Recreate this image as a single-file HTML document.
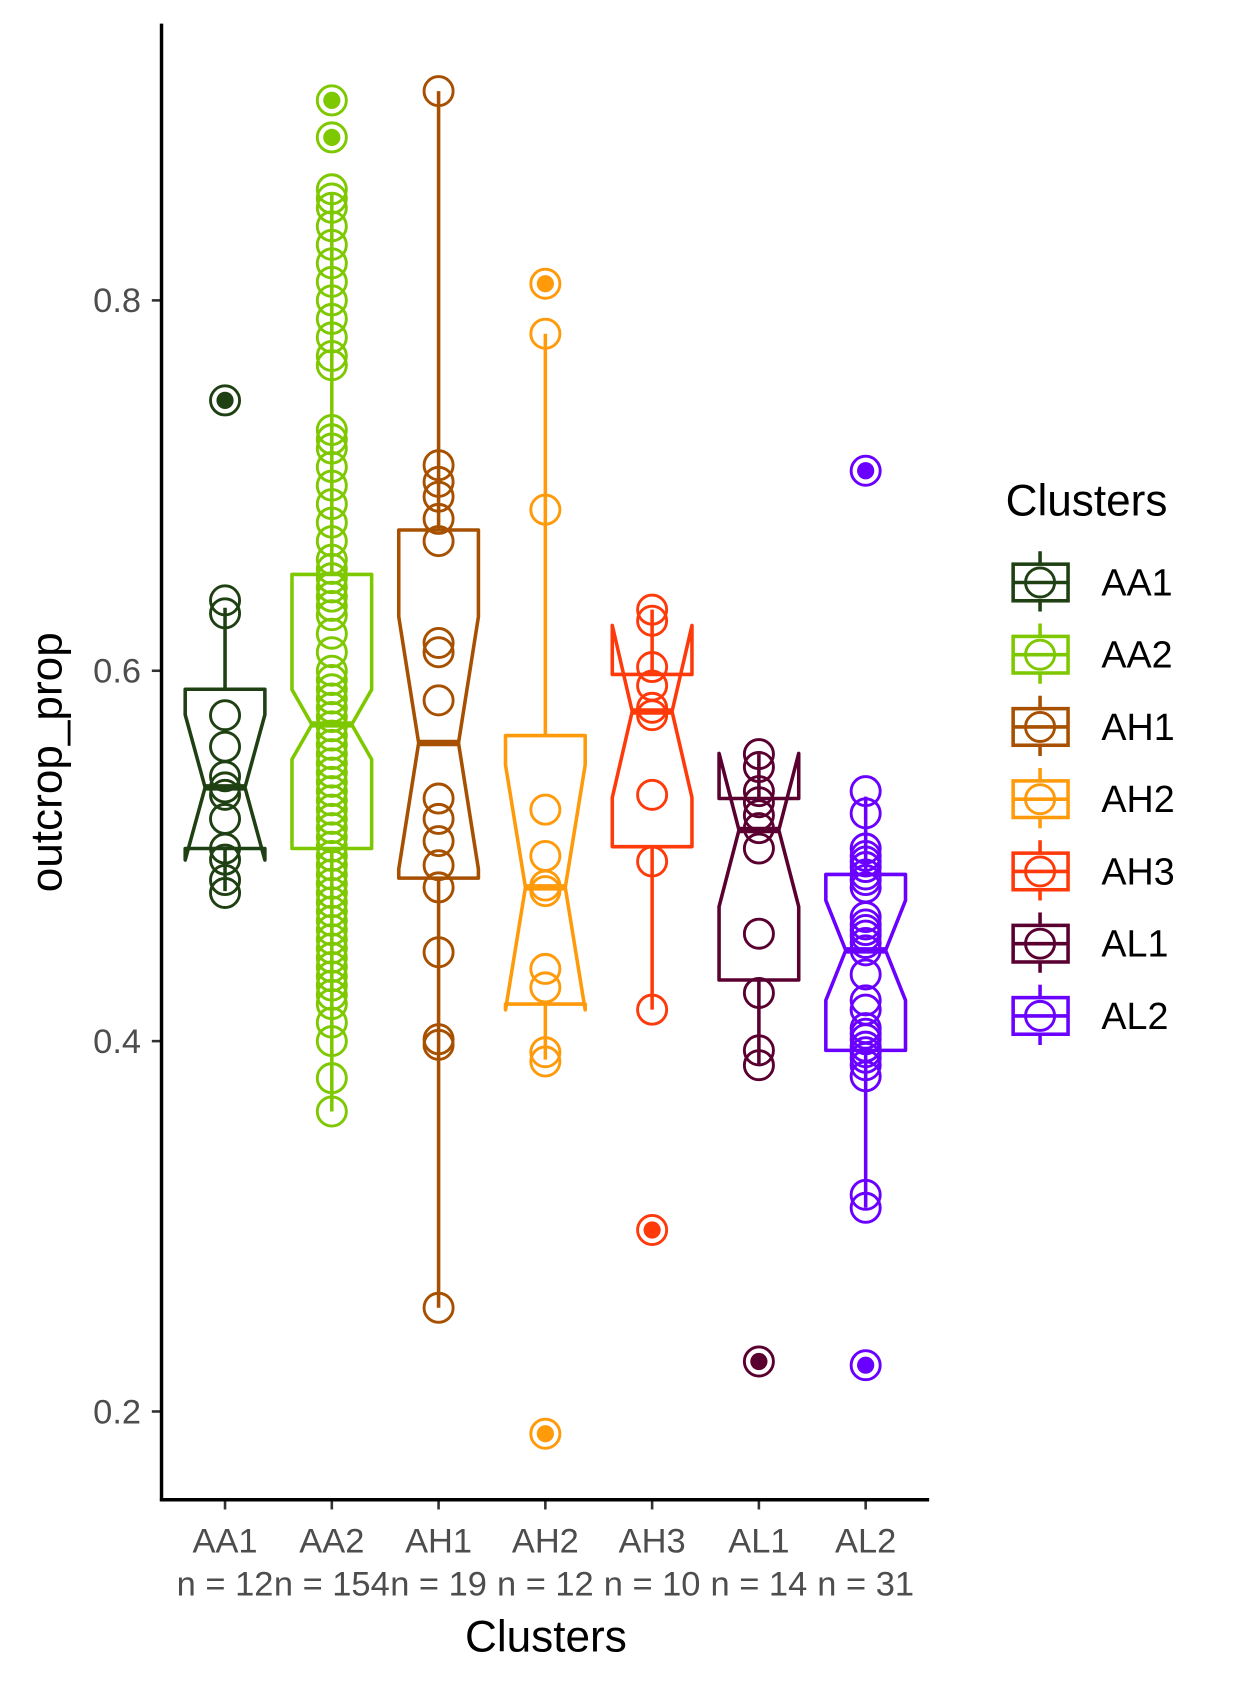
<!DOCTYPE html>
<html><head><meta charset="utf-8"><style>
html,body{margin:0;padding:0;background:#fff;}
svg{display:block;font-family:"Liberation Sans",Arial,sans-serif;}
</style></head><body>
<svg id="chart" width="1237" height="1687" viewBox="0 0 1148.9 1566.9" xmlns="http://www.w3.org/2000/svg">
<g id="plot"></g>
<g id="legend"></g>
</svg>
<script>
const categories = ["AA1","AA2","AH1","AH2","AH3","AL1","AL2"];
const counts = [12,154,19,12,10,14,31];
const colors = ["#1f4012","#7ec800","#a65000","#ff9a0a","#ff3a0a","#5a0030","#6a00ff"];
const q1s = [0.504,0.504,0.488,0.420,0.505,0.433,0.395];
const medians = [0.537,0.571,0.561,0.483,0.578,0.514,0.449];
const q3s = [0.590,0.652,0.676,0.565,0.598,0.531,0.490];
const whiskerLow = [0.481,0.362,0.256,0.390,0.417,0.387,0.310];
const whiskerHigh = [0.634,0.858,0.913,0.782,0.633,0.555,0.532];
const outliers = [[0.746],[0.908,0.888],[],[0.809,0.188],[0.298],[0.227],[0.708,0.225]];
const points = [
 [0.746,0.638,0.631,0.576,0.559,0.543,0.537,0.533,0.520,0.504,0.498,0.487,0.480],
 [0.908,0.888,0.86,0.855,0.85,0.84,0.83,0.82,0.81,0.80,0.79,0.78,0.77,0.765,0.73,0.725,0.72,0.71,0.70,0.69,0.68,0.67,0.66,0.655,0.65,0.645,0.64,0.635,0.63,0.62,0.61,0.60,0.595,0.59,0.585,0.58,0.575,0.57,0.565,0.56,0.555,0.55,0.545,0.54,0.535,0.53,0.525,0.52,0.515,0.51,0.505,0.50,0.495,0.49,0.485,0.48,0.475,0.47,0.465,0.46,0.455,0.45,0.445,0.44,0.435,0.43,0.425,0.42,0.41,0.40,0.38,0.362],
 [0.913,0.711,0.702,0.694,0.682,0.670,0.615,0.610,0.584,0.531,0.520,0.508,0.495,0.483,0.448,0.401,0.398,0.256],
 [0.809,0.782,0.687,0.525,0.500,0.484,0.481,0.439,0.429,0.394,0.389,0.188],
 [0.633,0.627,0.602,0.592,0.580,0.576,0.533,0.497,0.417,0.298],
 [0.555,0.548,0.535,0.529,0.522,0.515,0.504,0.458,0.426,0.395,0.387,0.227],
 [0.708,0.535,0.523,0.504,0.500,0.497,0.494,0.490,0.487,0.483,0.467,0.463,0.460,0.457,0.453,0.449,0.436,0.422,0.417,0.407,0.404,0.401,0.397,0.394,0.391,0.387,0.381,0.317,0.310,0.225]
];
const yTicks = [0.2,0.4,0.6,0.8];
const yTickLabels = ["0.2","0.4","0.6","0.8"];

const NS="http://www.w3.org/2000/svg";
const plot=document.getElementById('plot');
const legend=document.getElementById('legend');
function y(v){return 279+(0.8-v)*1720;}
function x(i){return 209+i*99.17;}
function mk(tag,attrs,parent){const e=document.createElementNS(NS,tag);for(const k in attrs)e.setAttribute(k,attrs[k]);parent.appendChild(e);return e;}
const SW=3.3;

categories.forEach((c,i)=>{
  const g=mk('g',{},plot);
  
  
  const col=colors[i], cx=x(i), hw=37;
  const iqr=q3s[i]-q1s[i], nd=1.58*iqr/Math.sqrt(counts[i]);
  const nlo=medians[i]-nd, nhi=medians[i]+nd;
  mk('line',{x1:cx,x2:cx,y1:y(whiskerHigh[i]),y2:y(q3s[i]),stroke:col,'stroke-width':SW},g);
  mk('line',{x1:cx,x2:cx,y1:y(q1s[i]),y2:y(whiskerLow[i]),stroke:col,'stroke-width':SW},g);
  const pts=[[cx-hw,y(q3s[i])],[cx-hw,y(nhi)],[cx-hw/2,y(medians[i])],[cx-hw,y(nlo)],[cx-hw,y(q1s[i])],
   [cx+hw,y(q1s[i])],[cx+hw,y(nlo)],[cx+hw/2,y(medians[i])],[cx+hw,y(nhi)],[cx+hw,y(q3s[i])]];
  mk('polygon',{points:pts.map(p=>p.join(',')).join(' '),fill:'none',stroke:col,'stroke-width':SW,'stroke-linejoin':'round'},g);
  mk('line',{x1:cx-hw/2,x2:cx+hw/2,y1:y(medians[i]),y2:y(medians[i]),stroke:col,'stroke-width':6},g);
  outliers[i].forEach(v=>{
    const o=mk('circle',{cx:cx,cy:y(v),r:8,fill:col},g);
    
    
  });
  points[i].forEach(v=>{
    const p=mk('circle',{cx:cx,cy:y(v),r:13.5,fill:'none',stroke:col,'stroke-width':2.7},g);
    
    
  });
  const tk=mk('line',{x1:cx,x2:cx,y1:1393,y2:1402,stroke:'#333','stroke-width':2.4},plot);
  
  
  const t=mk('text',{x:cx,y:1442,'text-anchor':'middle','font-size':32,fill:'#4d4d4d'},plot);
  
  
  t.textContent=c;
  const t2=mk('text',{x:cx,y:1482,'text-anchor':'middle','font-size':32,fill:'#4d4d4d'},plot);
  
  
  t2.textContent='n = '+counts[i];
  const lg=mk('g',{},legend);
  
  
  const ly=541+i*67.1, kx=966;
  mk('line',{x1:kx,x2:kx,y1:ly-29,y2:ly+27,stroke:col,'stroke-width':SW},lg);
  mk('rect',{x:941,y:ly-17,width:51,height:34,fill:'#fff',stroke:col,'stroke-width':SW},lg);
  mk('line',{x1:941,x2:992,y1:ly,y2:ly,stroke:col,'stroke-width':SW},lg);
  mk('circle',{cx:kx,cy:ly,r:13.5,fill:'none',stroke:col,'stroke-width':2.7},lg);
  const lt=mk('text',{x:1023,y:ly+12,'font-size':35,fill:'#000'},lg);
  lt.textContent=c;
});

yTicks.forEach((v,i)=>{
  const tk=mk('line',{x1:141,x2:150,y1:y(v),y2:y(v),stroke:'#333','stroke-width':2.4},plot);
  
  
  const t=mk('text',{x:131,y:y(v)+11,'text-anchor':'end','font-size':32,fill:'#4d4d4d'},plot);
  
  
  t.textContent=yTickLabels[i];
});
const ya=mk('line',{x1:150,x2:150,y1:22,y2:1394.5,stroke:'#000','stroke-width':3.2},plot);


const xa=mk('line',{x1:148.5,x2:863,y1:1393,y2:1393,stroke:'#000','stroke-width':3.2},plot);


const xt=mk('text',{x:507,y:1534,'text-anchor':'middle','font-size':41,fill:'#000'},plot);


xt.textContent='Clusters';
const yt=mk('text',{x:0,y:0,'text-anchor':'middle','font-size':41,fill:'#000',transform:'translate(57,708) rotate(-90)'},plot);


yt.textContent='outcrop_prop';
const lt=mk('text',{x:934,y:479,'font-size':41,fill:'#000'},legend);


lt.textContent='Clusters';
</script>
</body></html>
